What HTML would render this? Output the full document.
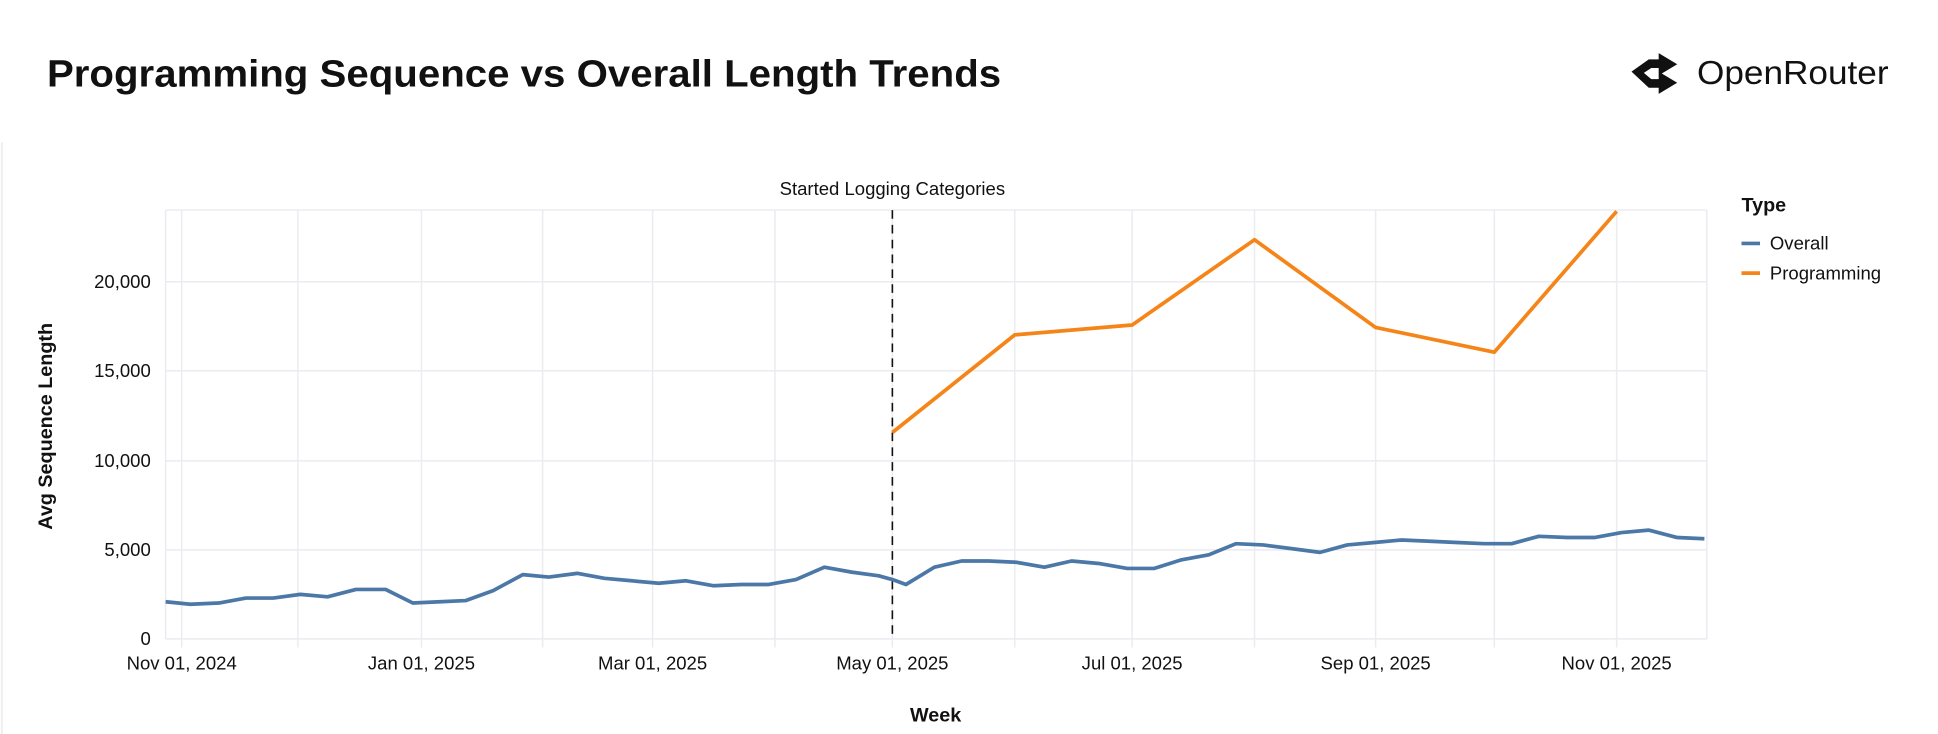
<!DOCTYPE html>
<html><head><meta charset="utf-8"><style>
html,body{margin:0;padding:0;background:#fff;}
svg{display:block;}
text{font-family:"Liberation Sans",sans-serif;fill:#111;}
</style></head><body>
<svg width="1938" height="734" viewBox="0 0 1568 594" preserveAspectRatio="none" xmlns="http://www.w3.org/2000/svg">
<rect width="1568" height="594" fill="#fff"/>
<line x1="1.5" y1="115" x2="1.5" y2="594" stroke="#eceef2" stroke-width="1.5"/>
<text x="38" y="70" font-size="31" font-weight="bold" textLength="772" lengthAdjust="spacingAndGlyphs">Programming Sequence vs Overall Length Trends</text>
<path d="M1320 58 L1334 48 L1342 48 L1342 43 L1357 52 L1342 61 L1342 55 L1336 55 L1330 59 L1336 64 L1342 64 L1342 58 L1357 67 L1342 76 L1342 71 L1334 71 Z" fill="#111"/>
<text x="1373" y="68" font-size="27" textLength="155" lengthAdjust="spacingAndGlyphs">OpenRouter</text>
<g stroke="#ebebf0" stroke-width="1.2">
<line x1="134" y1="517" x2="1381" y2="517"/>
<line x1="134" y1="445" x2="1381" y2="445"/>
<line x1="134" y1="373" x2="1381" y2="373"/>
<line x1="134" y1="300" x2="1381" y2="300"/>
<line x1="134" y1="228" x2="1381" y2="228"/>
<line x1="134" y1="170" x2="1381" y2="170"/>
<line x1="134" y1="170" x2="134" y2="517"/>
<line x1="1381" y1="170" x2="1381" y2="517"/>
<line x1="147" y1="170" x2="147" y2="524"/>
<line x1="241" y1="170" x2="241" y2="524"/>
<line x1="341" y1="170" x2="341" y2="524"/>
<line x1="439" y1="170" x2="439" y2="524"/>
<line x1="528" y1="170" x2="528" y2="524"/>
<line x1="627" y1="170" x2="627" y2="524"/>
<line x1="722" y1="170" x2="722" y2="524"/>
<line x1="821" y1="170" x2="821" y2="524"/>
<line x1="916" y1="170" x2="916" y2="524"/>
<line x1="1015" y1="170" x2="1015" y2="524"/>
<line x1="1113" y1="170" x2="1113" y2="524"/>
<line x1="1209" y1="170" x2="1209" y2="524"/>
<line x1="1308" y1="170" x2="1308" y2="524"/>
</g>
<g font-size="15" text-anchor="end">
<text x="122" y="522">0</text>
<text x="122" y="450">5,000</text>
<text x="122" y="378">10,000</text>
<text x="122" y="305">15,000</text>
<text x="122" y="233">20,000</text>
</g>
<g font-size="15" text-anchor="middle">
<text x="147" y="542">Nov 01, 2024</text>
<text x="341" y="542">Jan 01, 2025</text>
<text x="528" y="542">Mar 01, 2025</text>
<text x="722" y="542">May 01, 2025</text>
<text x="916" y="542">Jul 01, 2025</text>
<text x="1113" y="542">Sep 01, 2025</text>
<text x="1308" y="542">Nov 01, 2025</text>
</g>
<text x="757" y="584" font-size="16" font-weight="bold" text-anchor="middle">Week</text>
<text transform="translate(42,345) rotate(-90)" font-size="16" font-weight="bold" text-anchor="middle">Avg Sequence Length</text>
<text x="722" y="158" font-size="15" text-anchor="middle">Started Logging Categories</text>
<line x1="722" y1="170" x2="722" y2="517" stroke="#111" stroke-width="1.3" stroke-dasharray="7,5"/>
<polyline fill="none" stroke="#4c78a8" stroke-width="3" stroke-linejoin="round" points="134,487 154,489 177,488 199,484 221,484 243,481 265,483 288,477 312,477 334,488 356,487 377,486 399,478 423,465 444,467 467,464 489,468 511,470 533,472 555,470 577,474 600,473 622,473 644,469 667,459 689,463 711,466 722,469 733,473 756,459 778,454 800,454 822,455 845,459 867,454 889,456 912,460 934,460 956,453 978,449 1000,440 1022,441 1045,444 1068,447 1090,441 1112,439 1134,437 1157,438 1179,439 1201,440 1223,440 1245,434 1268,435 1290,435 1312,431 1334,429 1357,435 1379,436"/>
<polyline fill="none" stroke="#f58518" stroke-width="3" stroke-linejoin="round" points="722,350 821,271 916,263 1015,194 1113,265 1209,285 1308,171"/>
<text x="1409" y="171" font-size="16" font-weight="bold">Type</text>
<line x1="1409" y1="197" x2="1424" y2="197" stroke="#4c78a8" stroke-width="3"/>
<text x="1432" y="202" font-size="15">Overall</text>
<line x1="1409" y1="221" x2="1424" y2="221" stroke="#f58518" stroke-width="3"/>
<text x="1432" y="226" font-size="15">Programming</text>
</svg>
</body></html>
